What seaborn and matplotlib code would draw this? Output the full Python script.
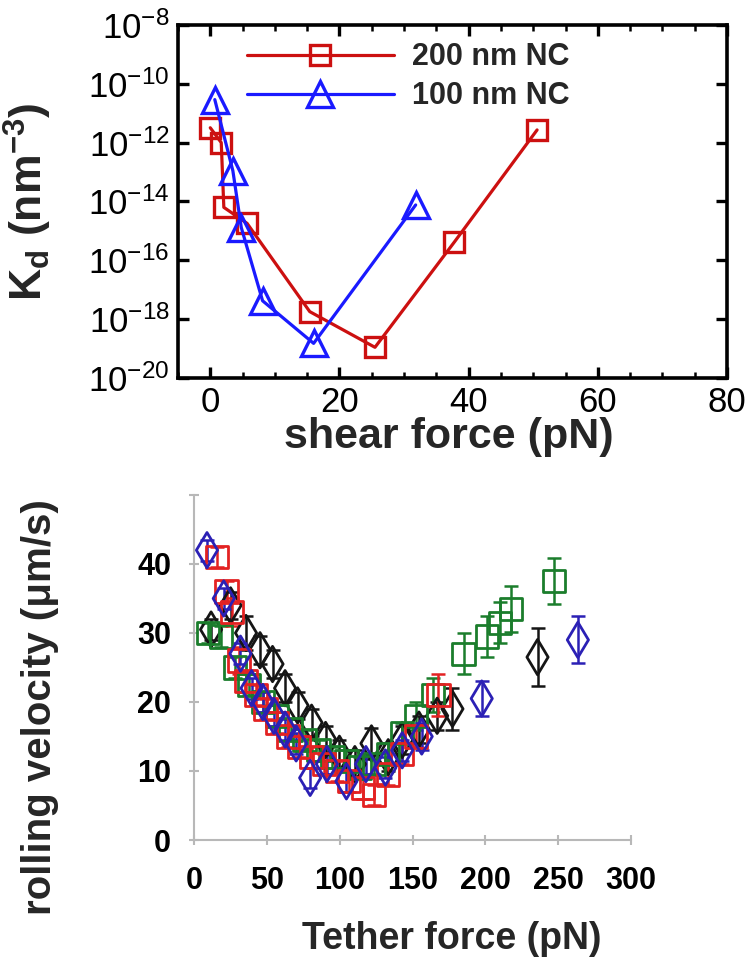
import numpy as np
import pandas as pd
import matplotlib
matplotlib.use("Agg")
import matplotlib.pyplot as plt
import seaborn as sns
from matplotlib.ticker import MultipleLocator, NullLocator, LogFormatterSciNotation

# ---------------- top panel data ----------------
nc200_force = [0.0, 1.7, 2.1, 5.7, 15.4, 25.5, 37.8, 50.6]
nc200_kd = [3.2e-12, 1.0e-12, 6.3e-15, 1.8e-15, 1.8e-18, 1.1e-19, 4.2e-16, 2.7e-12]
nc100_force = [0.7, 3.5, 4.8, 8.1, 16.0, 31.8]
nc100_kd = [2.9e-11, 1.1e-13, 1.3e-15, 4.2e-18, 1.5e-19, 7.6e-15]
top_labels = ["200 nm NC", "100 nm NC"]

# ---------------- bottom panel data ----------------
red_x = [15.6, 22.3, 26.1, 30.9, 35.7, 42.4, 49.1, 56.7, 64.4, 72.1, 80.7, 89.3, 97.9, 106.5, 116.1, 123.8, 133.3, 142.9, 152.5, 167.8]
red_v = [41, 36, 33, 26, 23, 21, 19, 17, 15, 13.5, 12, 11, 10, 8.5, 7.5, 6.5, 9.5, 12.5, 15, 21]
red_e = [1.5, 1.5, 2, 2, 1.5, 1.5, 1.5, 1.5, 1.5, 1.5, 1.5, 1.5, 1.5, 1.5, 1.5, 1.5, 1.5, 1.5, 1.5, 3]

blue_x = [8.9, 20.4, 31.9, 39.5, 47.2, 54.8, 62.5, 70.1, 79.7, 91.2, 104.6, 118.0, 131.4, 142.9, 156.3, 197.5, 263.5]
blue_v = [42, 35, 27, 22, 20, 18, 16, 14, 9, 11, 8.5, 11, 10.5, 13, 15, 20.5, 29]
blue_e = [1.5, 1.5, 1.5, 1.5, 1.5, 1.5, 1.5, 1.5, 1.5, 1.5, 1.5, 1.5, 1.5, 1.5, 2, 2.5, 3.4]

black_x = [11.7, 25.1, 35.7, 45.3, 53.9, 62.5, 71.1, 80.7, 90.3, 99.8, 110.4, 121.8, 133.3, 142.9, 154.4, 166.9, 177.4, 235.8]
black_v = [30.5, 34, 30, 27.5, 25.5, 22, 19.5, 17, 14.5, 12.5, 11, 14, 12, 14.5, 16, 18, 19, 26.5]
black_e = [1.5, 2, 2.5, 2, 2, 2, 2, 2, 2, 2, 2, 2.2, 2, 2, 2, 2, 3, 4.2]

green_x = [9.8, 18.4, 28.0, 37.6, 47.2, 56.7, 66.3, 75.9, 85.5, 95.0, 104.6, 114.2, 123.8, 133.3, 142.9, 152.5, 164.0, 185.0, 201.3, 209.9, 217.6, 247.3]
green_v = [30, 29.5, 25, 22.5, 20, 18, 16, 14.5, 13, 12, 11.5, 10.5, 11, 12.5, 15.5, 18, 21, 27, 29.5, 31.5, 33.5, 37.5]
green_e = [1.5, 1.5, 1.5, 1.5, 1.5, 1.5, 1.5, 1.5, 1.5, 1.5, 1.5, 1.5, 1.5, 1.5, 1.5, 2, 2.5, 3, 3, 3, 3.3, 3.3]

x_ticks_bottom = [0, 50, 100, 150, 200, 250, 300]
y_ticks_bottom = [0, 10, 20, 30, 40, 50]
y_ticklabels_bottom = ["0", "10", "20", "30", "40", ""]

RED_T = "#cc1010"
BLUE_T = "#1a1aff"
RED_B = "#e32222"
BLUE_B = "#2b20b5"
BLACK_B = "#151515"
GREEN_B = "#1b7d2c"

sns.set_theme(style="ticks")
plt.rcParams["font.family"] = ["Liberation Sans", "DejaVu Sans"]
plt.rcParams["mathtext.fontset"] = "custom"
plt.rcParams["mathtext.rm"] = "Liberation Sans"
plt.rcParams["mathtext.it"] = "Liberation Sans:italic"
plt.rcParams["mathtext.bf"] = "Liberation Sans:bold"

fig = plt.figure(figsize=(7.5, 9.6), dpi=100)
ax1 = fig.add_axes([0.2373, 0.6063, 0.732, 0.3677])
ax2 = fig.add_axes([0.2587, 0.125, 0.5827, 0.3594])

# ---------------- top panel ----------------
df200 = pd.DataFrame({"force": nc200_force, "kd": nc200_kd})
df100 = pd.DataFrame({"force": nc100_force, "kd": nc100_kd})
ax1.set_yscale("log")
sns.lineplot(data=df200, x="force", y="kd", ax=ax1, color=RED_T, linewidth=2.3,
             marker="s", markersize=14, markeredgewidth=2.4, markeredgecolor=RED_T,
             markerfacecolor="none", label=top_labels[0])
sns.lineplot(data=df100, x="force", y="kd", ax=ax1, color=BLUE_T, linewidth=2.3,
             marker="^", markersize=19, markeredgewidth=2.4, markeredgecolor=BLUE_T,
             markerfacecolor="none", label=top_labels[1])

ax1.set_xlim(-5, 80)
ax1.set_ylim(1e-20, 1e-8)
ax1.set_xticks([0, 20, 40, 60, 80])
ax1.xaxis.set_minor_locator(MultipleLocator(5))
ax1.set_yticks([1e-20, 1e-18, 1e-16, 1e-14, 1e-12, 1e-10, 1e-8])
ax1.yaxis.set_major_formatter(LogFormatterSciNotation())
ax1.yaxis.set_minor_locator(NullLocator())
ax1.tick_params(which="both", direction="in", top=True, right=True, colors="black")
ax1.tick_params(which="major", length=8, width=2.4, labelsize=25, pad=6)
ax1.tick_params(which="minor", length=4, width=1.8)
for s in ax1.spines.values():
    s.set_linewidth(2.6)
    s.set_color("black")
ax1.set_xlabel("shear force (pN)", fontsize=31, fontweight="bold")
ax1.set_ylabel(r"$\mathdefault{K_d\ (nm^{-3})}$", fontsize=32, fontweight="bold")
ax1.xaxis.set_label_coords(0.494, -0.11)
ax1.yaxis.set_label_coords(-0.225, 0.5)
leg = ax1.legend(loc="center left", bbox_to_anchor=(0.126, 0.853), frameon=False,
                 borderpad=0, borderaxespad=0, handlelength=4.8, handletextpad=0.6,
                 labelspacing=0.3, prop={"size": 22, "weight": "bold"})

# ---------------- bottom panel ----------------
series = [
    ("black", black_x, black_v, black_e, BLACK_B, "d", 18),
    ("green", green_x, green_v, green_e, GREEN_B, "s", 16),
    ("red", red_x, red_v, red_e, RED_B, "s", 16),
    ("blue", blue_x, blue_v, blue_e, BLUE_B, "d", 18),
]
for name, xs, vs, es, col, mk, ms in series:
    ax2.errorbar(xs, vs, yerr=es, fmt="none", ecolor=col, elinewidth=1.8,
                 capsize=5, capthick=1.8, zorder=2)
    sns.scatterplot(x=xs, y=vs, ax=ax2, marker=mk, s=ms ** 2, color=col,
                    linewidth=2.0, zorder=3, legend=False)
    coll = ax2.collections[-1]
    coll.set_facecolor("none")
    coll.set_edgecolor(col)

ax2.set_xlim(0, 300)
ax2.set_ylim(0, 50)
ax2.set_xticks(x_ticks_bottom)
ax2.set_yticks(y_ticks_bottom)
ax2.set_yticklabels(y_ticklabels_bottom)
for s in ["top", "right"]:
    ax2.spines[s].set_visible(False)
for s in ["left", "bottom"]:
    ax2.spines[s].set_color("#b8b8b8")
    ax2.spines[s].set_linewidth(1.5)
ax2.tick_params(direction="inout", length=7, width=1.5, color="#b8b8b8",
                labelcolor="black", labelsize=22)
ax2.tick_params(axis="y", pad=13)
ax2.tick_params(axis="x", pad=15)
for lab in ax2.get_xticklabels() + ax2.get_yticklabels():
    lab.set_fontweight("bold")
ax2.set_xlabel("Tether force (pN)", fontsize=27, fontweight="bold")
ax2.set_ylabel("rolling velocity (μm/s)", fontsize=29, fontweight="bold")
ax2.xaxis.set_label_coords(0.59, -0.235)
ax2.yaxis.set_label_coords(-0.31, 0.385)

fig.savefig("out.png", dpi=100)
